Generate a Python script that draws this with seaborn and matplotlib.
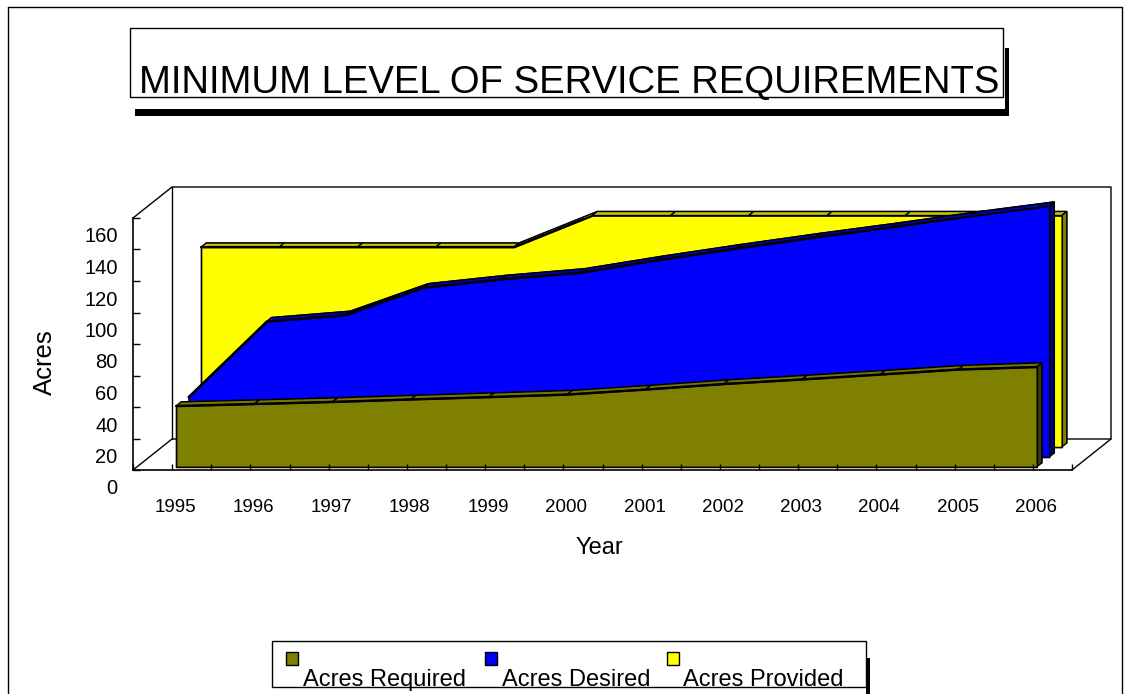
import numpy as np
import matplotlib
matplotlib.use("Agg")
import matplotlib.pyplot as plt
import seaborn as sns
from matplotlib.patches import Polygon, Rectangle
from matplotlib.transforms import offset_copy, IdentityTransform, ScaledTranslation
from matplotlib.lines import Line2D

# ---------------- data ----------------
years = ["1995", "1996", "1997", "1998", "1999", "2000",
         "2001", "2002", "2003", "2004", "2005", "2006"]
acres_required = [38.7, 40.0, 41.3, 42.9, 44.4, 46.0, 49.2, 52.7, 55.6, 58.7, 61.9, 63.5]
acres_desired = [38.0, 86.0, 90.0, 107.5, 112.8, 117.0, 125.0, 132.4, 139.4, 146.0, 153.0, 159.4]
acres_provided = [127, 127, 127, 127, 127, 147, 147, 147, 147, 147, 147, 147]
series_names = ["Acres Required", "Acres Desired", "Acres Provided"]
y_ticks = [0, 20, 40, 60, 80, 100, 120, 140, 160]
title_text = "MINIMUM LEVEL OF SERVICE REQUIREMENTS"

# ---------------- style ----------------
face_colors = ["#808000", "#0000FF", "#FFFF00"]
top_colors = ["#767600", "#0000B4", "#C4C400"]
side_colors = ["#3C3C00", "#000078", "#808000"]
row_depth = [0.10, 0.42, 0.74]
THICK = 0.13
DEPTH_PX = (39, 31)

W, H, DPI = 1130, 694, 100
sns.set_theme(style="white", rc={"text.color": "black", "axes.labelcolor": "black",
                                 "xtick.color": "black", "ytick.color": "black"})
plt.rcParams["font.family"] = ["Liberation Sans", "DejaVu Sans"]

fig = plt.figure(figsize=(W / DPI, H / DPI), dpi=DPI)
fig.patch.set_facecolor("white")


def fx(px):
    return px / W


def fy(py):
    return 1 - py / H


AX_L, AX_R, AX_T, AX_B = 133, 1072, 218, 470
ax = fig.add_axes([fx(AX_L), fy(AX_B), (AX_R - AX_L) / W, (AX_B - AX_T) / H])
ax.set_facecolor("none")
xs = np.arange(len(years))
series = [acres_required, acres_desired, acres_provided]


def depth_trans(d):
    return offset_copy(ax.transData, fig=fig, x=d * DEPTH_PX[0], y=d * DEPTH_PX[1], units="dots")


# front top edges via seaborn (offset into depth)
for k in [2, 1, 0]:
    z = 2 + (2 - k)
    sns.lineplot(x=xs, y=series[k], ax=ax, color="black", lw=1.6, zorder=z + 0.4,
                 transform=depth_trans(row_depth[k]), legend=False)

ax.set_xlim(-0.5, len(years) - 0.5)
ax.set_ylim(0, 160)
ax.autoscale(False)
ax.set_xlabel("")
ax.set_ylabel("")

ident = IdentityTransform()


def disp(x, y, d):
    p = ax.transData.transform((x, y))
    return (p[0] + d * DEPTH_PX[0], p[1] + d * DEPTH_PX[1])


x0, x1 = -0.5, len(years) - 0.5
ymax = y_ticks[-1]
wall_paths = [
    [(x0, ymax, 0), (x0, ymax, 1), (x1, ymax, 1), (x1, 0, 1)],
    [(x0, ymax, 1), (x0, 0, 1)],
    [(x0, 0, 0), (x0, 0, 1), (x1, 0, 1), (x1, 0, 0)],
]
for path in wall_paths:
    pts = np.array([disp(*p) for p in path])
    ax.add_line(Line2D(pts[:, 0], pts[:, 1], transform=ident, color="black", lw=1.0,
                       zorder=1, clip_on=False))

# slabs (back to front)
for k in [2, 1, 0]:
    vals = series[k]
    d0 = row_depth[k]
    d1 = d0 + THICK
    z = 2 + (2 - k)
    back = [disp(xs[0], 0, d1)] + [disp(x, v, d1) for x, v in zip(xs, vals)] + [disp(xs[-1], 0, d1)]
    ax.add_patch(Polygon(back, closed=True, transform=ident, fc=top_colors[k], ec="black",
                         lw=1.0, zorder=z, clip_on=False))
    for i in range(len(xs) - 1):
        quad = [disp(xs[i], vals[i], d0), disp(xs[i + 1], vals[i + 1], d0),
                disp(xs[i + 1], vals[i + 1], d1), disp(xs[i], vals[i], d1)]
        ax.add_patch(Polygon(quad, closed=True, transform=ident, fc=top_colors[k], ec="black",
                             lw=1.0, zorder=z + 0.1, clip_on=False))
    side = [disp(xs[-1], 0, d0), disp(xs[-1], vals[-1], d0),
            disp(xs[-1], vals[-1], d1), disp(xs[-1], 0, d1)]
    ax.add_patch(Polygon(side, closed=True, transform=ident, fc=side_colors[k], ec="black",
                         lw=1.0, zorder=z + 0.2, clip_on=False))
    ax.fill_between(xs, 0, vals, transform=depth_trans(d0), facecolor=face_colors[k],
                    edgecolor="black", lw=1.2, zorder=z + 0.3, clip_on=False)

# axes / ticks
for s in ["top", "right"]:
    ax.spines[s].set_visible(False)
for s in ["left", "bottom"]:
    ax.spines[s].set_color("black")
    ax.spines[s].set_linewidth(1.2)
    ax.spines[s].set_zorder(10)
ax.xaxis.set_zorder(10)
ax.yaxis.set_zorder(10)

ax.set_xticks(xs)
ax.set_xticklabels(years)
ax.set_xticks(np.arange(-0.5, len(years), 1.0), minor=True)
ax.set_yticks(y_ticks)
ax.set_yticklabels([str(t) for t in y_ticks])
ax.tick_params(axis="x", which="both", direction="in", length=4, width=1, bottom=True,
               labelsize=13.5, pad=21)
ax.tick_params(axis="y", which="major", direction="in", length=5, width=1, left=True,
               labelsize=14.5, pad=11)
shift = ScaledTranslation(0, -0.17, fig.dpi_scale_trans)
for lab in ax.get_yticklabels():
    lab.set_transform(lab.get_transform() + shift)
xshift = ScaledTranslation(0.03, 0, fig.dpi_scale_trans)
for lab in ax.get_xticklabels():
    lab.set_transform(lab.get_transform() + xshift)
ax.grid(False)

fig.text(fx(45), fy(362), "Acres", rotation=90, ha="center", va="center", fontsize=18.5)
fig.text(fx(599), fy(548), "Year", ha="center", va="center", fontsize=17)

# title box with shadow
fig.patches.append(Rectangle((fx(135), fy(116)), fx(1008) - fx(135), fy(109) - fy(116),
                             transform=fig.transFigure, fc="black", ec="none", zorder=1))
fig.patches.append(Rectangle((fx(1005), fy(116)), fx(1009) - fx(1005), fy(48) - fy(116),
                             transform=fig.transFigure, fc="black", ec="none", zorder=1))
fig.patches.append(Rectangle((fx(130), fy(97)), fx(1003) - fx(130), fy(28) - fy(97),
                             transform=fig.transFigure, fc="white", ec="black", lw=1, zorder=2))
fig.text(fx(569), fy(93), title_text, ha="center", va="baseline", fontsize=27.5, zorder=3)

# legend box with shadow
fig.patches.append(Rectangle((fx(866), fy(694)), fx(870) - fx(866), fy(658) - fy(694),
                             transform=fig.transFigure, fc="black", ec="none", zorder=1))
fig.patches.append(Rectangle((fx(272), fy(687)), fx(866) - fx(272), fy(641) - fy(687),
                             transform=fig.transFigure, fc="white", ec="black", lw=1, zorder=2))
marker_x = [286, 485, 667]
text_x = [303, 502, 683]
for name, col, mx, tx in zip(series_names, face_colors, marker_x, text_x):
    fig.patches.append(Rectangle((fx(mx), fy(665)), fx(mx + 12) - fx(mx), fy(652) - fy(665),
                                 transform=fig.transFigure, fc=col, ec="black", lw=1, zorder=3))
    fig.text(fx(tx), fy(686), name, ha="left", va="baseline", fontsize=17, zorder=4)

# outer frame
for (xa, ya, xb, yb) in [(8, 7, 1122, 7), (8, 7, 8, 694), (1122, 7, 1122, 694)]:
    fig.lines.append(Line2D([fx(xa), fx(xb)], [fy(ya), fy(yb)], transform=fig.transFigure,
                            color="black", lw=1))

fig.savefig("out.png", dpi=DPI)
